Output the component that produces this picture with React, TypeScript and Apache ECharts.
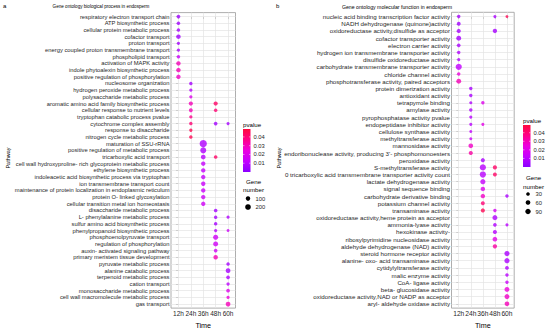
import React, { useEffect, useRef } from 'react';
import * as echarts from 'echarts';

const FONT = '"Liberation Sans", Arial, sans-serif';

const timeLabels = ['12h', '24h', '36h', '48h', '60h'];

const bpPathways = [
  'respiratory electron transport chain',
  'ATP biosynthetic process',
  'cellular protein metabolic process',
  'cofactor transport',
  'proton transport',
  'energy coupled proton transmembrane transport',
  'phospholipid transport',
  'activation of MAPK activity',
  'indole phytoalexin biosynthetic process',
  'positive regulation of phosphorylation',
  'nucleosome organization',
  'hydrogen peroxide metabolic process',
  'polysaccharide metabolic process',
  'aromatic amino acid family biosynthetic process',
  'cellular response to nutrient levels',
  'tryptophan catabolic process pvalue',
  'cytochrome complex assembly',
  'response to disaccharide',
  'nitrogen cycle metabolic process',
  'maturation of SSU-rRNA',
  'positive regulation of metabolic process',
  'tricarboxylic acid transport',
  'cell wall hydroxyproline- rich glycoprotein metabolic process',
  'ethylene biosynthetic process',
  'indoleacetic acid biosynthetic process via tryptophan',
  'ion transmembrane transport count',
  'maintenance of protein localization in endoplasmic reticulum',
  'protein O- linked glycosylation',
  'cellular transition metal ion homeostasis',
  'disaccharide metabolic process',
  'L- phenylalanine metabolic process',
  'sulfur amino acid biosynthetic process',
  'phenylpropanoid biosynthetic process',
  'phosphoenolpyruvate transport',
  'regulation of phosphorylation',
  'auxin- activated signaling pathway',
  'primary meristem tissue development',
  'pyruvate metabolic process',
  'alanine catabolic process',
  'terpenoid metabolic process',
  'cation transport',
  'monosaccharide metabolic process',
  'cell wall macromolecule metabolic process',
  'gas transport',
];

// [pathway row, time index, pvalue, gene number]
const bpDots = [
  [0, 0, 0.004, 59], [1, 0, 0.005, 49], [2, 0, 0.006, 49], [3, 0, 0.005, 107],
  [4, 0, 0.006, 36], [5, 0, 0.007, 40], [6, 0, 0.014, 49], [7, 0, 0.03, 100],
  [8, 0, 0.03, 107], [9, 0, 0.028, 100], [10, 1, 0.006, 49], [11, 1, 0.01, 40],
  [12, 1, 0.02, 40], [13, 1, 0.03, 87], [13, 3, 0.042, 87], [14, 1, 0.03, 69],
  [14, 3, 0.04, 49], [15, 1, 0.036, 40], [16, 1, 0.04, 49], [16, 3, 0.005, 59],
  [16, 4, 0.006, 36], [17, 1, 0.045, 40], [18, 1, 0.045, 49], [19, 2, 0.008, 374],
  [20, 2, 0.008, 235], [21, 2, 0.01, 121], [21, 3, 0.042, 59], [22, 2, 0.013, 100],
  [23, 2, 0.013, 100], [24, 2, 0.013, 100], [25, 2, 0.014, 100], [26, 2, 0.014, 100],
  [27, 2, 0.015, 100], [28, 2, 0.016, 100], [29, 3, 0.005, 59], [30, 3, 0.006, 49],
  [30, 4, 0.008, 36], [31, 3, 0.006, 49], [32, 3, 0.009, 40], [32, 4, 0.015, 28],
  [33, 3, 0.016, 144], [34, 3, 0.016, 144], [35, 3, 0.016, 59], [36, 3, 0.03, 107],
  [37, 4, 0.006, 49], [38, 4, 0.006, 121], [39, 4, 0.008, 59], [40, 4, 0.011, 40],
  [41, 4, 0.02, 59], [42, 4, 0.025, 40], [43, 4, 0.03, 121],
];

const mfPathways = [
  'nucleic acid binding transcription factor activity',
  'NADH dehydrogenase (quinone)activity',
  'oxidoreductase activity,disulfide as acceptor',
  'cofactor transporter activity',
  'electron carrier activity',
  'hydrogen ion transmembrane transporter activity',
  'disulfide oxidoreductase activity',
  'carbohydrate transmembrane transporter activity',
  'chloride channel activity',
  'phosphotransferase activity, paired acceptors',
  'protein dimerization activity',
  'antioxidant activity',
  'tetrapyrrole binding',
  'amylase activity',
  'pyrophosphatase activity pvalue',
  'endopeptidase inhibitor activity',
  'cellulose synthase activity',
  'methyltransferase activity',
  'mannosidase activity',
  "endoribonuclease activity, producing 3'- phosphomonoesters",
  'peroxidase activity',
  'S-methyltransferase activity',
  '0 tricarboxylic acid transmembrane transporter activity count',
  'lactate dehydrogenase activity',
  'signal sequence binding',
  'carbohydrate derivative binding',
  'potassium channel activity',
  'transaminase activity',
  'oxidoreductase activity,heme protein as acceptor',
  'ammonia-lyase activity',
  'hexokinase activity-',
  'ribosylpyrimidine nucleosidase activity',
  'aldehyde dehydrogenase (NAD) activity',
  'steroid hormone receptor activity',
  'alanine- oxo- acid transaminase activity',
  'cytidylyltransferase activity',
  'malic enzyme activity',
  'CoA- ligase activity',
  'beta- glucosidase activity',
  'oxidoreductase activity,NAD or NADP as acceptor',
  'aryl- aldehyde oxidase activity',
];

// [pathway row, time index, pvalue, gene number]
const mfDots = [
  [0, 0, 0.006, 25], [0, 3, 0.007, 18], [0, 4, 0.045, 13], [1, 0, 0.005, 35],
  [2, 0, 0.006, 44], [2, 3, 0.006, 51], [3, 0, 0.006, 73], [4, 0, 0.007, 30],
  [5, 0, 0.008, 25], [6, 0, 0.008, 18], [7, 0, 0.012, 131], [8, 0, 0.025, 25],
  [9, 0, 0.03, 69], [10, 1, 0.006, 25], [11, 1, 0.007, 25], [12, 1, 0.008, 18],
  [12, 2, 0.02, 25], [13, 1, 0.008, 25], [14, 1, 0.01, 18], [15, 1, 0.01, 18],
  [15, 2, 0.022, 18], [16, 1, 0.012, 15], [17, 1, 0.014, 15], [18, 1, 0.028, 62],
  [19, 1, 0.033, 44], [20, 2, 0.007, 44], [21, 2, 0.01, 131], [21, 3, 0.042, 44],
  [22, 2, 0.01, 131], [22, 3, 0.042, 38], [23, 2, 0.013, 82], [24, 2, 0.02, 54],
  [25, 2, 0.028, 54], [25, 4, 0.007, 25], [26, 2, 0.04, 38], [27, 2, 0.045, 44],
  [27, 3, 0.018, 25], [28, 3, 0.008, 73], [29, 3, 0.008, 30], [29, 4, 0.01, 18],
  [30, 3, 0.009, 44], [31, 3, 0.022, 62], [32, 3, 0.033, 51], [33, 4, 0.007, 82],
  [34, 4, 0.007, 82], [35, 4, 0.008, 35], [36, 4, 0.01, 25], [37, 4, 0.014, 25],
  [38, 4, 0.025, 73], [39, 4, 0.028, 73], [40, 4, 0.03, 62],
];

const pvalueTicks = [0.01, 0.02, 0.03, 0.04];
const bpSizeBreaks = [100, 200];
const mfSizeBreaks = [30, 60, 90];

const P_MIN = 0;
const P_MAX = 0.049;
const colorStops = ['#8A00FF', '#C400FF', '#EC00E0', '#FF0088', '#FF0A3C'];

const TEXT = '#1f1f1f';

const bpSize = (n: number) => 1.3 + 0.31 * Math.sqrt(n);
const mfSize = (n: number) => 1.3 + 0.43 * Math.sqrt(n);

function buildOption() {
  const timeIdx = timeLabels.map((_, i) => i);
  const bpRows = bpPathways.map((_, i) => i);
  const mfRows = mfPathways.map((_, i) => i);

  const gridLine = { color: '#E4E4E4', width: 0.7, type: 'solid' };

  const xAxis = (gridIndex: number, fs: number) => ({
    type: 'value',
    gridIndex,
    min: -0.6,
    max: timeLabels.length - 0.4,
    axisLine: { show: false },
    splitLine: { show: false },
    axisTick: { show: true, customValues: timeIdx, length: 2.5, lineStyle: { color: '#555', width: 0.6 } },
    axisLabel: {
      customValues: timeIdx,
      formatter: (v: number) => timeLabels[Math.round(v)] ?? '',
      fontSize: fs,
      color: TEXT,
      margin: 2,
      fontFamily: FONT,
    },
    name: 'Time',
    nameLocation: 'middle',
    nameGap: 9,
    nameTextStyle: { fontSize: 7.2, color: '#000', fontFamily: FONT },
  });

  const yAxis = (gridIndex: number, names: string[], rows: number[], fs: number) => ({
    type: 'value',
    gridIndex,
    inverse: true,
    min: -0.6,
    max: names.length - 0.4,
    axisLine: { show: false },
    splitLine: { show: false },
    axisTick: { show: true, customValues: rows, length: 2.5, lineStyle: { color: '#555', width: 0.6 } },
    axisLabel: {
      customValues: rows,
      formatter: (v: number) => names[Math.round(v)] ?? '',
      fontSize: fs,
      color: TEXT,
      margin: 1.5,
      fontFamily: FONT,
    },
  });

  const markLine = (names: string[]) => ({
    silent: true,
    z: 1,
    symbol: ['none', 'none'],
    label: { show: false },
    lineStyle: gridLine,
    emphasis: { disabled: true },
    data: [
      ...timeLabels.map((_, i) => ({ xAxis: i })),
      ...names.map((_, i) => ({ yAxis: i })),
    ],
  });

  const gradient = () =>
    new echarts.graphic.LinearGradient(
      0, 0, 0, 1,
      colorStops.map((c, i) => ({ offset: 1 - i / (colorStops.length - 1), color: c })).reverse()
    );

  const txt = (text: string, x: number, y: number, fs: number, align = 'left', extra: any = {}) => ({
    type: 'text',
    x,
    y,
    silent: true,
    ...extra,
    style: {
      text,
      fontSize: fs,
      fontFamily: FONT,
      fill: extra.fill ?? '#000',
      align,
      textAlign: align,
      verticalAlign: 'middle',
      textVerticalAlign: 'middle',
    },
  });

  const legend = (
    x: number, titleY: number, barTop: number, barH: number,
    geneY: number, sizeBreaks: number[], sizeY: number[], sizeFn: (n: number) => number
  ) => {
    const els: any[] = [];
    els.push(txt('pvalue', x, titleY, 6.2));
    els.push({ type: 'rect', silent: true, shape: { x, y: barTop, width: 7.5, height: barH }, style: { fill: gradient() } });
    pvalueTicks.forEach((p) => {
      const y = barTop + (1 - (p - P_MIN) / (P_MAX - P_MIN)) * barH;
      els.push({ type: 'line', silent: true, shape: { x1: x, y1: y, x2: x + 1.5, y2: y }, style: { stroke: '#fff', lineWidth: 0.5 } });
      els.push({ type: 'line', silent: true, shape: { x1: x + 6, y1: y, x2: x + 7.5, y2: y }, style: { stroke: '#fff', lineWidth: 0.5 } });
      els.push(txt(p.toFixed(2), x + 10.5, y, 5.8, 'left', { fill: TEXT }));
    });
    els.push(txt('Gene', x + 3, geneY, 6.2));
    els.push(txt('number', x, geneY + 8.5, 6.2));
    sizeBreaks.forEach((n, i) => {
      const r = sizeFn(n) / 2;
      els.push({ type: 'circle', silent: true, shape: { cx: x + 5, cy: sizeY[i], r }, style: { fill: '#000' } });
      els.push(txt(String(n), x + 12.5, sizeY[i], 5.8, 'left', { fill: TEXT }));
    });
    return els;
  };

  const graphic: any[] = [
    txt('a', 3, 6, 6),
    txt('b', 276, 6, 6),
    txt('Gene ontology biological process in endosperm', 101, 6.5, 4.6, 'center'),
    txt('Gene ontology molecular function in endosperm', 397, 6.5, 5.2, 'center'),
    txt('Pathway', 7.5, 158, 5.5, 'center', { rotation: Math.PI / 2 }),
    txt('Pathway', 279, 158, 5.5, 'center', { rotation: Math.PI / 2 }),
    ...legend(243, 124.5, 129, 43, 181, bpSizeBreaks, [198.5, 207], bpSize),
    ...legend(523, 120.5, 125, 42, 177.5, mfSizeBreaks, [194, 202.5, 211.5], mfSize),
  ];

  return {
    animation: false,
    backgroundColor: '#fff',
    grid: [
      { left: 171, top: 12.6, width: 64.5, height: 304.5, show: true, borderColor: '#999', borderWidth: 0.8, backgroundColor: 'transparent' },
      { left: 451.5, top: 12.3, width: 62.7, height: 304.8, show: true, borderColor: '#999', borderWidth: 0.8, backgroundColor: 'transparent' },
    ],
    xAxis: [xAxis(0, 6.5), xAxis(1, 6.7)],
    yAxis: [yAxis(0, bpPathways, bpRows, 5.8), yAxis(1, mfPathways, mfRows, 6.2)],
    visualMap: {
      type: 'continuous',
      show: false,
      min: P_MIN,
      max: P_MAX,
      dimension: 2,
      seriesIndex: [0, 1],
      inRange: { color: colorStops },
    },
    series: [
      {
        type: 'scatter',
        xAxisIndex: 0,
        yAxisIndex: 0,
        z: 3,
        symbol: 'circle',
        symbolSize: (v: number[]) => bpSize(v[3]),
        data: bpDots.map((d) => [d[1], d[0], d[2], d[3]]),
        markLine: markLine(bpPathways),
      },
      {
        type: 'scatter',
        xAxisIndex: 1,
        yAxisIndex: 1,
        z: 3,
        symbol: 'circle',
        symbolSize: (v: number[]) => mfSize(v[3]),
        data: mfDots.map((d) => [d[1], d[0], d[2], d[3]]),
        markLine: markLine(mfPathways),
      },
    ],
    graphic,
  };
}

export default function App() {
  const ref = useRef<HTMLDivElement>(null);
  useEffect(() => {
    document.body.style.margin = '0';
    if (!ref.current) return;
    const chart = echarts.init(ref.current, null, { renderer: 'svg' });
    chart.setOption(buildOption() as any);
    return () => chart.dispose();
  }, []);
  return <div ref={ref} style={{ width: 550, height: 334 }} />;
}
